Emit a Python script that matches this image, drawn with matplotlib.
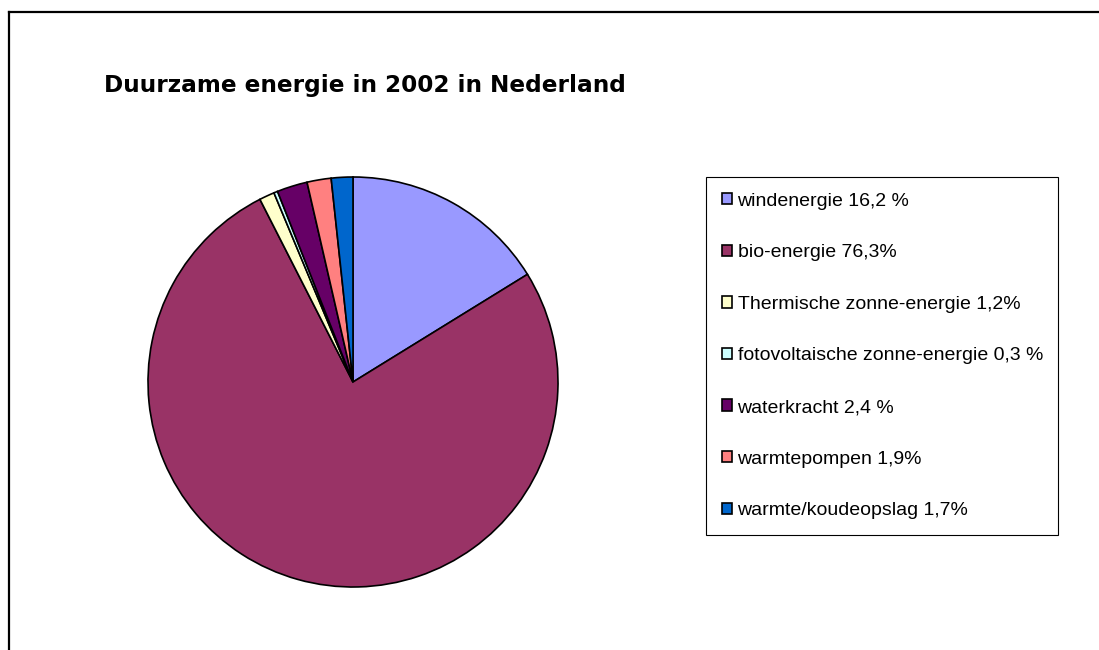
import matplotlib
matplotlib.use("Agg")
import matplotlib.pyplot as plt
from matplotlib.lines import Line2D

plt.rcParams['font.family'] = ['Liberation Sans', 'DejaVu Sans']

# Data
labels = ['windenergie 16,2 %', 'bio-energie 76,3%', 'Thermische zonne-energie 1,2%',
          'fotovoltaische zonne-energie 0,3 %', 'waterkracht 2,4 %', 'warmtepompen 1,9%',
          'warmte/koudeopslag 1,7%']
shares = [16.2, 76.3, 1.2, 0.3, 2.4, 1.9, 1.7]
colors = ['#9999FF', '#993366', '#FFFFCC', '#CCFFFF', '#660066', '#FF8080', '#0066CC']

W, H = 1099, 650
fig = plt.figure(figsize=(W / 100, H / 100), dpi=100)

# pie axes: centre (353, 382) px, radius 205 px
cx, cy, r = 353, 382, 205
ax = fig.add_axes([(cx - r) / W, 1 - (cy + r) / H, 2 * r / W, 2 * r / H])
wedges, _ = ax.pie(shares, colors=colors, startangle=90, counterclock=False,
                   wedgeprops=dict(edgecolor='black', linewidth=1.2), radius=1)
ax.set_xlim(-1, 1)
ax.set_ylim(-1, 1)
ax.set_aspect('equal')
ax.axis('off')

fig.text(104 / W, 1 - 92 / H, 'Duurzame energie in 2002 in Nederland',
         fontsize=16.7, fontweight='bold', va='baseline', ha='left',
         family=['DejaVu Sans'])

leg = fig.legend(wedges, labels, loc='upper left', bbox_to_anchor=(706 / W, 1 - 177 / H),
                 fontsize=14, frameon=True, fancybox=False, edgecolor='black',
                 framealpha=1, labelspacing=1.78, handlelength=0.52, handleheight=0.52,
                 handletextpad=0.3, borderpad=0.8, borderaxespad=0)
leg.get_frame().set_linewidth(0.8)
for h in leg.legend_handles:
    h.set_linewidth(1.2)

# outer frame (top and left edges visible)
fig.add_artist(Line2D([9 / W, 9 / W], [0, 1 - 12 / H], color='black', lw=1.6,
                      transform=fig.transFigure))
fig.add_artist(Line2D([9 / W, 1], [1 - 12 / H, 1 - 12 / H], color='black', lw=1.6,
                      transform=fig.transFigure))

fig.savefig('out.png', dpi=100)
